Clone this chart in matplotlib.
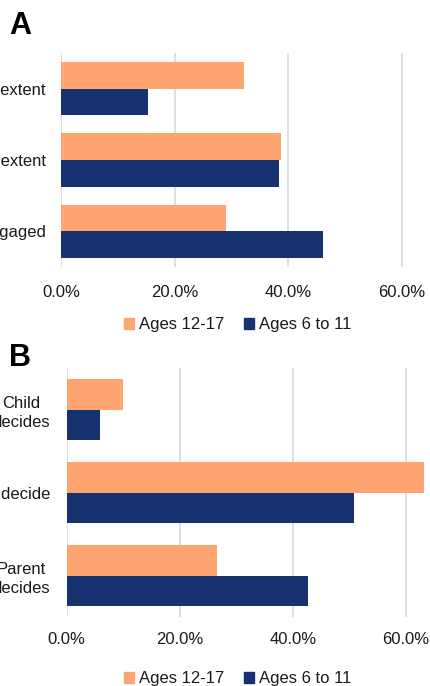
import matplotlib.pyplot as plt
from matplotlib.patches import Patch
from matplotlib.ticker import PercentFormatter

plt.rcParams['font.family'] = ['Liberation Sans', 'DejaVu Sans']

# Panel A: extent of engagement
cats_a = ['To a great extent', 'To some extent', 'Not engaged']
teen_a = [32.2, 38.7, 29.0]
child_a = [15.3, 38.4, 46.1]

# Panel B: who makes the decision
cats_b = ['Child\ndecides', 'Both decide', 'Parent\ndecides']
teen_b = [9.9, 63.2, 26.6]
child_b = [5.9, 50.8, 42.7]

series_names = ['Ages 12-17', 'Ages 6 to 11']
orange = '#FFA571'
navy = '#17336F'
grid_col = '#D9D9D9'
txt_col = '#1A1A1A'

W, H = 430, 686
fig = plt.figure(figsize=(W / 100, H / 100), dpi=100)


def panel(rect, cats, teen, child, bar_h, tick_pad, lab_pad):
    ax = fig.add_axes(rect)
    y = list(range(len(cats)))
    ax.barh([v - bar_h / 2 for v in y], teen, height=bar_h, color=orange)
    ax.barh([v + bar_h / 2 for v in y], child, height=bar_h, color=navy)
    ax.set_ylim(len(cats) - 0.5, -0.5)
    ax.set_xlim(0, 70)
    ax.set_xticks([0, 20, 40, 60, 70])
    ax.xaxis.set_major_formatter(PercentFormatter(decimals=1))
    ax.set_xticklabels(['0.0%', '20.0%', '40.0%', '60.0%', ''])
    ax.set_yticks(y)
    ax.set_yticklabels(cats, multialignment='center', linespacing=1.35)
    ax.tick_params(axis='x', length=0, pad=tick_pad, labelsize=12, colors=txt_col)
    ax.tick_params(axis='y', length=0, pad=lab_pad, labelsize=12, colors=txt_col)
    ax.grid(axis='x', color=grid_col, linewidth=1.2)
    ax.set_axisbelow(True)
    for s in ax.spines.values():
        s.set_visible(False)
    return ax


def legend(y_px):
    handles = [Patch(color=orange, label=series_names[0]),
               Patch(color=navy, label=series_names[1])]
    fig.legend(handles=handles, loc='center', ncol=2, frameon=False,
               bbox_to_anchor=(238 / W, 1 - y_px / H), fontsize=12,
               handlelength=0.6, handleheight=0.6, handletextpad=0.3,
               columnspacing=1.2, labelcolor=txt_col)


ax_a = panel([61 / W, 1 - 267 / H, 398 / W, 214 / H],
             cats_a, teen_a, child_a, 0.374, 13, 11)
ax_b = panel([66.7 / W, 1 - 617 / H, 395.5 / W, 249 / H],
             cats_b, teen_b, child_b, 0.367, 11, 12)

legend(325)
legend(679)

fig.text(9 / W, 1 - 26 / H, 'A', fontsize=22, fontweight='bold', va='center', color='black')
fig.text(9 / W, 1 - 358 / H, 'B', fontsize=22, fontweight='bold', va='center', color='black')

fig.savefig('out.png', dpi=100)
